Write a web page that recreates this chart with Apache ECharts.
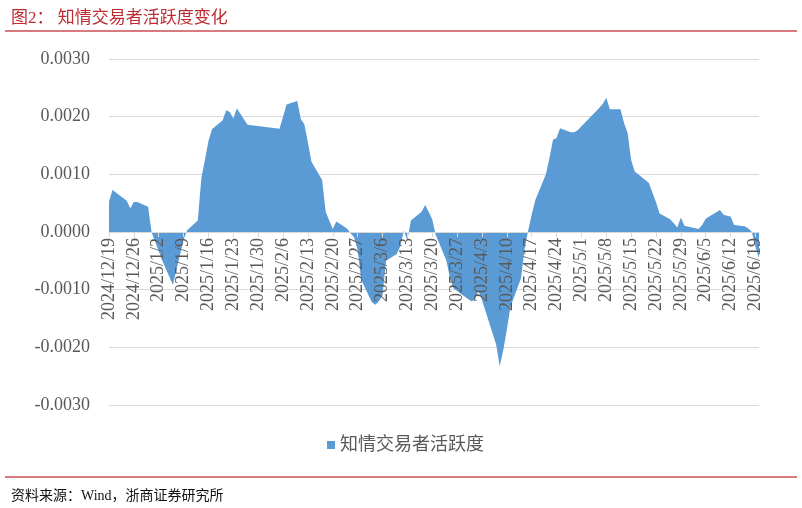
<!DOCTYPE html>
<html>
<head>
<meta charset="utf-8">
<script src="https://cdn.jsdelivr.net/npm/echarts@6/dist/echarts.min.js"></script>
<style>
html,body{margin:0;padding:0;background:#fff;}
#chart{width:802px;height:508px;}
</style>
</head>
<body>
<div id="chart"></div>
<script>
const seriesName = '知情交易者活跃度';
const titleText = '图2： 知情交易者活跃度变化';
const sourceText = '资料来源：Wind，浙商证券研究所';

const dates = [
'2024/12/19','2024/12/20','2024/12/23','2024/12/24','2024/12/25','2024/12/26','2024/12/27','2024/12/30','2024/12/31',
'2025/1/2','2025/1/3','2025/1/6','2025/1/7','2025/1/8','2025/1/9','2025/1/10','2025/1/13','2025/1/14','2025/1/15','2025/1/16','2025/1/17','2025/1/20','2025/1/21','2025/1/22','2025/1/23','2025/1/24','2025/1/27',
'2025/2/5','2025/2/6','2025/2/7','2025/2/10','2025/2/11','2025/2/12','2025/2/13','2025/2/14','2025/2/17','2025/2/18','2025/2/19','2025/2/20','2025/2/21','2025/2/24','2025/2/25','2025/2/26','2025/2/27','2025/2/28',
'2025/3/3','2025/3/4','2025/3/5','2025/3/6','2025/3/7','2025/3/10','2025/3/11','2025/3/12','2025/3/13','2025/3/14','2025/3/17','2025/3/18','2025/3/19','2025/3/20','2025/3/21','2025/3/24','2025/3/25','2025/3/26','2025/3/27','2025/3/28','2025/3/31',
'2025/4/1','2025/4/2','2025/4/3','2025/4/7','2025/4/8','2025/4/9','2025/4/10','2025/4/11','2025/4/14','2025/4/15','2025/4/16','2025/4/17','2025/4/18','2025/4/21','2025/4/22','2025/4/23','2025/4/24','2025/4/25','2025/4/28','2025/4/29','2025/4/30',
'2025/5/6','2025/5/7','2025/5/8','2025/5/9','2025/5/12','2025/5/13','2025/5/14','2025/5/15','2025/5/16','2025/5/19','2025/5/20','2025/5/21','2025/5/22','2025/5/23','2025/5/26','2025/5/27','2025/5/28','2025/5/29','2025/5/30',
'2025/6/3','2025/6/4','2025/6/5','2025/6/6','2025/6/9','2025/6/10','2025/6/11','2025/6/12','2025/6/13','2025/6/16','2025/6/17','2025/6/18','2025/6/19','2025/6/20'
];

const values = [
0.00053,0.00073,0.00059,0.00054,0.00041,0.00052,0.00052,0.00044,-0.00001,
-0.00033,-0.00050,-0.00092,-0.00065,-0.00040,-0.00013,0.00003,0.00020,0.00093,0.00125,0.00158,0.00178,0.00194,0.00211,0.00208,0.00197,0.00214,0.00186,
0.00179,0.00200,0.00221,0.00227,0.00196,0.00187,0.00155,0.00122,0.00090,0.00035,0.00020,0.00005,0.00018,0.00006,-0.00002,-0.00009,-0.00031,-0.00083,
-0.00122,-0.00126,-0.00120,-0.00110,-0.00050,-0.00038,-0.00025,0.00002,-0.00014,0.00020,0.00035,0.00047,0.00035,0.00022,-0.00005,-0.00050,-0.00080,-0.00098,-0.00102,-0.00107,-0.00120,
-0.00118,-0.00102,-0.00118,-0.00195,-0.00233,-0.00205,-0.00170,-0.00130,-0.00080,-0.00030,0.00002,0.00030,0.00055,0.00100,0.00128,0.00160,0.00163,0.00180,0.00173,0.00173,0.00177,
0.00215,0.00222,0.00233,0.00213,0.00213,0.00189,0.00172,0.00125,0.00105,0.00090,0.00085,0.00068,0.00052,0.00032,0.00022,0.00015,0.00008,0.00025,0.00011,
0.00005,0.00012,0.00023,0.00027,0.00038,0.00030,0.00028,0.00027,0.00012,0.00010,0.00006,0.00000,-0.00026,-0.00046
];

const tickLabels = [
'2024/12/19','2024/12/26','2025/1/2','2025/1/9','2025/1/16','2025/1/23','2025/1/30','2025/2/6','2025/2/13','2025/2/20',
'2025/2/27','2025/3/6','2025/3/13','2025/3/20','2025/3/27','2025/4/3','2025/4/10','2025/4/17','2025/4/24','2025/5/1',
'2025/5/8','2025/5/15','2025/5/22','2025/5/29','2025/6/5','2025/6/12','2025/6/19'
];
const axisEndDate = '2025/6/20';
const yTicks = [-0.003, -0.002, -0.001, 0, 0.001, 0.002, 0.003];

function toUTC(s){ const p = s.split('/').map(Number); return Date.UTC(p[0], p[1]-1, p[2]); }
const origin = toUTC(tickLabels[0]);
const dayOf = s => Math.round((toUTC(s) - origin) / 86400000);
function labelOf(d){
  const t = new Date(origin + d * 86400000);
  return t.getUTCFullYear() + '/' + (t.getUTCMonth()+1) + '/' + t.getUTCDate();
}
const tickDays = tickLabels.map(dayOf);
const seriesData = dates.map((d, i) => [dayOf(d), values[i]]);

const gridTop = 59, gridBottom = 103, chartH = 508;
const yMin = yTicks[0], yMax = yTicks[yTicks.length-1];
const plotH = chartH - gridTop - gridBottom;
// shift the x axis (drawn at the bottom edge) up to where the value 0 sits
const zeroOffset = -plotH * (0 - yMin) / (yMax - yMin);

const serif = "'Liberation Serif', 'Times New Roman', 'Noto Sans CJK SC', serif";
const chart = echarts.init(document.getElementById('chart'), null, {renderer:'canvas'});
chart.setOption({
  animation: false,
  backgroundColor: '#ffffff',
  title: [
    {text: titleText, left: 6, top: 5,
     textStyle: {color:'#BE2B31', fontSize:17, fontWeight:'normal', fontFamily: serif}},
    {text: sourceText, left: 6, top: 484,
     textStyle: {color:'#111111', fontSize:14, fontWeight:'normal', fontFamily: serif}}
  ],
  graphic: [
    {type:'line', shape:{x1:5, y1:31, x2:797, y2:31}, style:{stroke:'#CC4F53', lineWidth:1.5}},
    {type:'line', shape:{x1:5, y1:477, x2:797, y2:477}, style:{stroke:'#CC4F53', lineWidth:1.5}}
  ],
  legend: {
    left: 322, top: 431,
    icon: 'rect', itemWidth: 8, itemHeight: 8,
    textStyle: {color:'#595959', fontSize:18, fontFamily: serif},
    data: [seriesName]
  },
  grid: {left: 109, right: 43, top: gridTop, bottom: gridBottom, containLabel: false},
  xAxis: {
    type: 'value',
    min: 0, max: dayOf(axisEndDate),
    position: 'bottom',
    offset: zeroOffset,
    z: 5,
    axisLine: {show: true, onZero: false, lineStyle: {color:'#D9D9D9', width:1}},
    axisTick: {show: true, length: 5, inside: false, customValues: tickDays, lineStyle: {color:'#D9D9D9'}},
    axisLabel: {
      rotate: 90, margin: 6, customValues: tickDays,
      color: '#595959', fontSize: 18, fontFamily: serif,
      formatter: v => labelOf(v)
    },
    splitLine: {show: false}
  },
  yAxis: {
    type: 'value',
    min: yMin, max: yMax, interval: 0.001,
    axisLine: {show: false, onZero: false},
    axisTick: {show: false},
    axisLabel: {color:'#595959', fontSize:18, fontFamily: serif, margin: 19,
      formatter: v => v.toFixed(4)},
    splitLine: {show: true, lineStyle: {color:'#D9D9D9', width:1}}
  },
  series: [{
    name: seriesName,
    type: 'line',
    data: seriesData,
    symbol: 'none',
    smooth: false,
    lineStyle: {width: 0, color:'#5B9BD5'},
    itemStyle: {color:'#5B9BD5'},
    areaStyle: {color:'#5B9BD5', opacity: 1},
    z: 2
  }]
});
</script>
</body>
</html>
